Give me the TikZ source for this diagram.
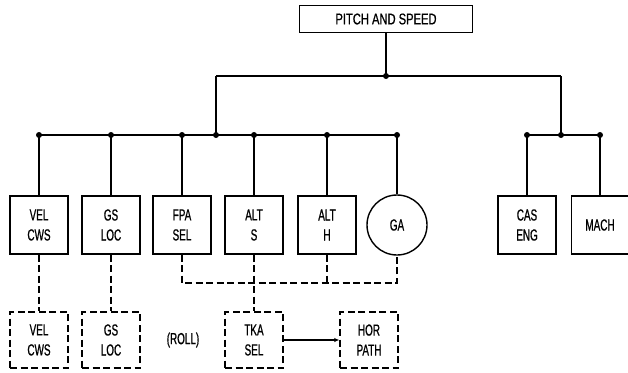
\documentclass[tikz,border=0pt]{standalone}
\usepackage{fontspec}
\setmainfont{Liberation Sans}[FakeStretch=0.62, FakeBold=0.8]
\newfontfamily\headfont{Liberation Sans}[FakeStretch=0.72, FakeBold=0.8]
\usetikzlibrary{arrows.meta}

\begin{document}
\begin{tikzpicture}[x=1pt, y=-1pt,
        box/.style={draw, line width=1.4pt, rectangle, minimum width=58pt, minimum height=58pt, align=center, inner sep=0pt, font=\fontsize{16}{20}\selectfont},
        dbox/.style={box, dash pattern=on 7pt off 3.5pt, minimum height=56pt},
        round/.style={draw, line width=1.4pt, circle, minimum size=60pt, inner sep=0pt, font=\fontsize{16}{20}\selectfont},
        line/.style={line width=1.4pt},
        dline/.style={line width=1.4pt, dash pattern=on 7pt off 3.5pt},
        arrow/.style={-{Latex[length=5pt,width=4.5pt]}, line width=1.4pt},
        dot/.style={circle, fill, inner sep=0pt, minimum size=6pt}
    ]
\useasboundingbox (0,0) rectangle (628,372);

\node[box, minimum width=173pt, minimum height=27pt, font=\headfont\fontsize{15.5}{16}\selectfont] (pitch) at (386,19) {PITCH AND SPEED};

        % upper row
        \node[box] (vel) at (39,225) {VEL\\CWS};
        \node[box] (gs) at (111,225) {GS\\LOC};
        \node[box] (fpa) at (182,225) {FPA\\SEL};
        \node[box] (alts) at (254,225) {ALT\\S};
        \node[box] (alth) at (327,225) {ALT\\H};
        \node[round] (ga) at (397,225) {GA};
        \node[box] (cas) at (527,225) {CAS\\ENG};
        \node[box, minimum width=57pt] (mach) at (600,225) {MACH};

        % lower row
        \node[dbox] (vel2) at (39,340) {VEL\\CWS};
        \node[dbox] (gs2) at (111,340) {GS\\LOC};
        \node[font=\fontsize{16}{20}\selectfont] (roll) at (183,340) {(ROLL)};
        \node[dbox] (tka) at (254,340) {TKA\\SEL};
        \node[dbox] (hor) at (369,340) {HOR\\PATH};

        \coordinate (jmain) at (386,76);
        \coordinate (jleft) at (216,76);
        \coordinate (jright) at (561,76);
        \coordinate (bleft) at (216,135);
        \coordinate (bright) at (561,135);
        \coordinate (dlow) at (0,283);

\draw[line] (pitch) -- (jmain);
        \draw[line] (jleft) -- (jright);
        \draw[line] (jleft) -- (bleft);
        \draw[line] (jright) -- (bright);
        \draw[line] (vel.north |- bleft) -- (ga.north |- bleft);
        \draw[line] (cas.north |- bright) -- (mach.north |- bright);
        \foreach \n in {vel,gs,fpa,alts,alth,ga} {
            \draw[line] (\n.north) -- (\n.north |- bleft);
            \node[dot] at (\n.north |- bleft) {};
        }
        \foreach \n in {cas,mach} {
            \draw[line] (\n.north) -- (\n.north |- bright);
            \node[dot] at (\n.north |- bright) {};
        }
        \node[dot] at (jmain) {};
        \node[dot] at (bleft) {};
        \node[dot] at (bright) {};

        \draw[dline] (vel) -- (vel2);
        \draw[dline] (gs) -- (gs2);
        \draw[dline] (fpa.south) -- (fpa.south |- dlow) -- (ga.south |- dlow) -- (ga.south);
        \draw[dline] (alth.south) -- (alth.south |- dlow);
        \draw[dline] (alts.south) -- (tka.north);
        \draw[arrow] (tka) -- (hor);

    \end{tikzpicture}
\end{document}
